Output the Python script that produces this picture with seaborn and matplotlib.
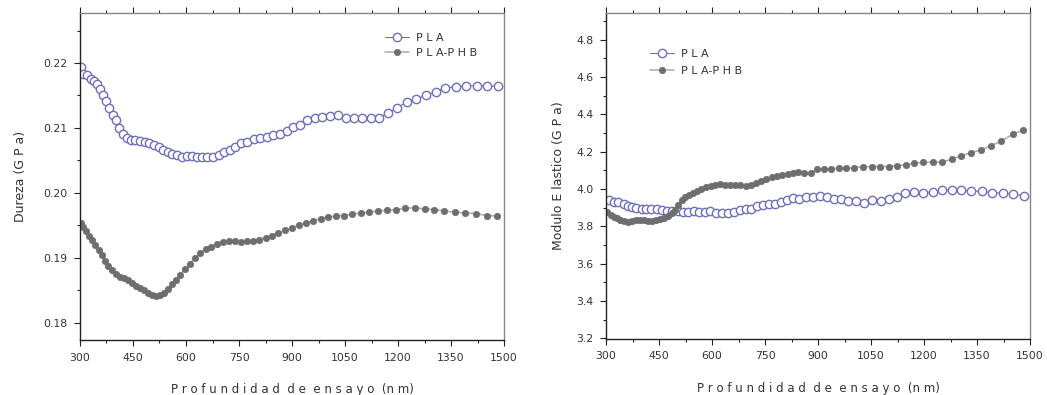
import matplotlib
matplotlib.use("Agg")
import matplotlib.pyplot as plt
import seaborn as sns
from matplotlib.ticker import MultipleLocator

# --- Data (depth in nm) ---
dur_pla_x = [304, 309, 321, 330, 341, 347, 357, 366, 374, 382, 392, 402, 411, 421, 432, 444,
             457, 470, 483, 496, 509, 523, 536, 548, 561, 575, 588, 602, 616, 631, 646, 660,
             675, 692, 708, 724, 740, 757, 774, 792, 809, 828, 847, 866, 885, 904, 923, 943,
             964, 986, 1008, 1031, 1053, 1075, 1099, 1123, 1147, 1172, 1198, 1225, 1251, 1279,
             1307, 1334, 1364, 1392, 1423, 1453, 1483]
dur_pla_y = [0.2194, 0.2183, 0.2181, 0.2175, 0.2172, 0.2168, 0.2160, 0.2151, 0.2142, 0.2131,
             0.2120, 0.2112, 0.2100, 0.2091, 0.2085, 0.2081, 0.2081, 0.2080, 0.2078, 0.2077,
             0.2074, 0.2071, 0.2066, 0.2063, 0.2060, 0.2058, 0.2055, 0.2056, 0.2057, 0.2055,
             0.2055, 0.2055, 0.2055, 0.2058, 0.2063, 0.2066, 0.2071, 0.2076, 0.2079, 0.2083,
             0.2085, 0.2086, 0.2089, 0.2091, 0.2095, 0.2101, 0.2105, 0.2112, 0.2115, 0.2117,
             0.2118, 0.2120, 0.2116, 0.2116, 0.2116, 0.2116, 0.2116, 0.2123, 0.2131, 0.2140,
             0.2145, 0.2150, 0.2156, 0.2162, 0.2163, 0.2165, 0.2165, 0.2165, 0.2164]

dur_phb_x = [303, 309, 317, 325, 334, 343, 353, 361, 370, 380, 391, 402, 413, 424, 436, 447,
             458, 470, 481, 492, 504, 515, 526, 538, 549, 560, 572, 584, 597, 610, 625, 640,
             656, 672, 688, 704, 721, 738, 755, 772, 789, 807, 825, 843, 861, 880, 900, 920,
             940, 960, 981, 1003, 1025, 1047, 1071, 1094, 1119, 1143, 1169, 1194, 1221, 1247,
             1275, 1303, 1331, 1360, 1390, 1421, 1451, 1481]
dur_phb_y = [0.1953, 0.1947, 0.1941, 0.1934, 0.1927, 0.1920, 0.1912, 0.1904, 0.1895, 0.1887,
             0.1881, 0.1875, 0.1871, 0.1868, 0.1865, 0.1861, 0.1857, 0.1854, 0.1850, 0.1846,
             0.1843, 0.1841, 0.1842, 0.1846, 0.1852, 0.1859, 0.1866, 0.1874, 0.1883, 0.1891,
             0.1899, 0.1907, 0.1914, 0.1917, 0.1921, 0.1924, 0.1926, 0.1926, 0.1924, 0.1925,
             0.1926, 0.1928, 0.1931, 0.1934, 0.1938, 0.1942, 0.1946, 0.1950, 0.1954, 0.1957,
             0.1960, 0.1963, 0.1964, 0.1965, 0.1967, 0.1969, 0.1970, 0.1972, 0.1973, 0.1974,
             0.1976, 0.1977, 0.1975, 0.1974, 0.1972, 0.1970, 0.1969, 0.1968, 0.1965, 0.1964]

mod_pla_x = [309, 322, 335, 352, 361, 373, 386, 401, 414, 428, 443, 458, 473, 488, 503, 518,
             533, 548, 563, 580, 595, 611, 628, 644, 661, 678, 695, 711, 728, 745, 762, 779,
             795, 812, 829, 847, 865, 885, 905, 926, 944, 965, 986, 1008, 1031, 1053, 1077,
             1100, 1123, 1147, 1172, 1198, 1224, 1251, 1279, 1306, 1334, 1363, 1393, 1423,
             1453, 1482]
mod_pla_y = [3.941, 3.932, 3.930, 3.920, 3.909, 3.902, 3.898, 3.891, 3.895, 3.891, 3.891,
             3.888, 3.884, 3.884, 3.880, 3.879, 3.879, 3.880, 3.877, 3.877, 3.880, 3.873,
             3.870, 3.870, 3.877, 3.888, 3.891, 3.895, 3.911, 3.916, 3.918, 3.920, 3.930,
             3.941, 3.952, 3.948, 3.955, 3.955, 3.962, 3.955, 3.948, 3.948, 3.938, 3.934,
             3.927, 3.941, 3.938, 3.945, 3.959, 3.980, 3.984, 3.980, 3.984, 3.995, 3.995,
             3.995, 3.988, 3.988, 3.980, 3.977, 3.973, 3.962]

mod_phb_x = [304, 313, 322, 332, 341, 352, 363, 374, 386, 397, 408, 419, 430, 442, 453, 464,
             475, 486, 496, 505, 514, 523, 535, 546, 558, 570, 583, 596, 609, 623, 637, 651,
             665, 680, 695, 710, 725, 739, 754, 769, 784, 799, 814, 829, 844, 860, 879, 898,
             916, 937, 958, 980, 1002, 1026, 1053, 1075, 1100, 1124, 1149, 1173, 1198, 1224,
             1250, 1278, 1304, 1334, 1361, 1389, 1419, 1451, 1481]
mod_phb_y = [3.877, 3.862, 3.852, 3.843, 3.834, 3.827, 3.825, 3.827, 3.834, 3.834, 3.834,
             3.830, 3.830, 3.834, 3.838, 3.843, 3.855, 3.870, 3.888, 3.916, 3.941, 3.955,
             3.970, 3.980, 3.991, 4.002, 4.011, 4.016, 4.023, 4.027, 4.021, 4.021, 4.020,
             4.020, 4.016, 4.020, 4.030, 4.041, 4.052, 4.062, 4.070, 4.075, 4.080, 4.087,
             4.091, 4.087, 4.087, 4.105, 4.105, 4.109, 4.111, 4.112, 4.112, 4.120, 4.120,
             4.120, 4.120, 4.125, 4.129, 4.137, 4.143, 4.143, 4.143, 4.159, 4.177, 4.195,
             4.209, 4.232, 4.257, 4.293, 4.316]

labels = ["P L A", "P L A-P H B"]
pla_color = "#6f70b8"
phb_color = "#6e6e6e"

# --- Style ---
sns.set_style("white")
plt.rcParams["font.family"] = ["DejaVu Sans"]
text_color = "#333333"

fig = plt.figure(figsize=(10.47, 3.95), dpi=100)
ax1 = fig.add_axes([0.0764, 0.139, 0.405, 0.828])
ax2 = fig.add_axes([0.5788, 0.142, 0.405, 0.825])


def draw(ax, px, py, hx, hy):
    sns.lineplot(x=px, y=py, ax=ax, color=pla_color, linewidth=0.8, marker="o",
                 markersize=6, markerfacecolor="white", markeredgecolor=pla_color,
                 markeredgewidth=1.0, label=labels[0], sort=False)
    sns.lineplot(x=hx, y=hy, ax=ax, color="#b0b0b0", linewidth=1.2, marker="o",
                 markersize=4.6, markerfacecolor=phb_color, markeredgecolor=phb_color,
                 markeredgewidth=0.5, label=labels[1], sort=False)


draw(ax1, dur_pla_x, dur_pla_y, dur_phb_x, dur_phb_y)
draw(ax2, mod_pla_x, mod_pla_y, mod_phb_x, mod_phb_y)

ax1.set_ylim(0.1773, 0.2277)
ax1.yaxis.set_major_locator(MultipleLocator(0.01))
ax1.yaxis.set_minor_locator(MultipleLocator(0.005))
ax1.yaxis.set_major_formatter(plt.FormatStrFormatter("%.2f"))
ax1.set_ylabel("Dureza (G P a)", fontsize=9, color=text_color, labelpad=12)

ax2.set_ylim(3.196, 4.943)
ax2.yaxis.set_major_locator(MultipleLocator(0.2))
ax2.yaxis.set_minor_locator(MultipleLocator(0.1))
ax2.yaxis.set_major_formatter(plt.FormatStrFormatter("%.1f"))
ax2.set_ylabel("Modulo E lastico (G P a)", fontsize=9, color=text_color, labelpad=8)

for ax in (ax1, ax2):
    ax.set_xlim(300, 1500)
    ax.xaxis.set_major_locator(MultipleLocator(150))
    ax.xaxis.set_minor_locator(MultipleLocator(75))
    ax.set_xlabel("P r o f u n d i d a d  d e  e n s a y o  (n m)", fontsize=8.5,
                  color=text_color, labelpad=15)
    ax.tick_params(axis="both", which="major", labelsize=7.8, colors="#222222",
                   labelcolor=text_color, length=4, width=0.8, direction="out",
                   left=True, bottom=True, pad=5)
    ax.tick_params(axis="both", which="minor", length=2.5, width=0.8, direction="out",
                   left=True, bottom=True)
    ax.tick_params(axis="x", which="both", top=True)
    for side in ("left", "bottom"):
        ax.spines[side].set_color("#222222")
        ax.spines[side].set_linewidth(1.0)
    for side in ("top", "right"):
        ax.spines[side].set_color("#888888")
        ax.spines[side].set_linewidth(1.0)
    ax.grid(False)

ax1.legend(loc="upper right", bbox_to_anchor=(0.96, 0.97), frameon=False, fontsize=8,
           handlelength=2.2, handletextpad=0.6, labelspacing=0.45,
           labelcolor=text_color)
ax2.legend(loc="upper left", bbox_to_anchor=(0.08, 0.92), frameon=False, fontsize=8,
           handlelength=2.2, handletextpad=0.6, labelspacing=0.6,
           labelcolor=text_color)

fig.savefig("out.png", dpi=100)
